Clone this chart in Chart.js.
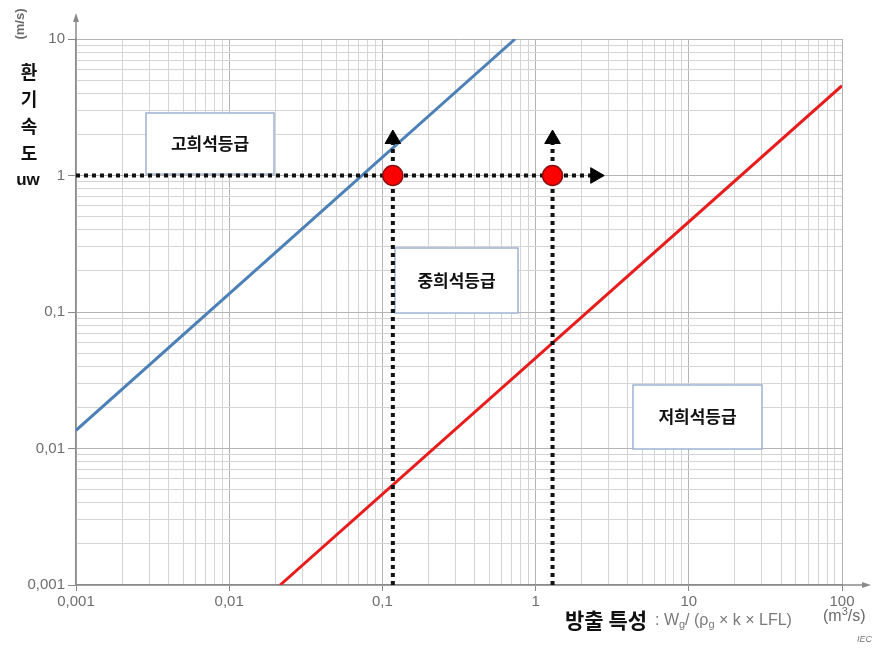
<!DOCTYPE html>
<html>
<head>
<meta charset="utf-8">
<script src="https://cdn.jsdelivr.net/npm/chart.js@4/dist/chart.umd.min.js"></script>
<style>
  html, body { margin: 0; padding: 0; background: #fff; }
  #wrap { width: 879px; height: 652px; }
</style>
</head>
<body>
<div id="wrap"><canvas id="chart" width="879" height="652"></canvas></div>
<script>
// ── DATA
const xTickValues = [0.001, 0.01, 0.1, 1, 10, 100];
const xTickLabels = ["0,001", "0,01", "0,1", "1", "10", "100"];
const yTickValues = [0.001, 0.01, 0.1, 1, 10];
const yTickLabels = ["0,001", "0,01", "0,1", "1", "10"];

// high-dilution boundary (blue) and low-dilution boundary (red)
const blueX = [0.001, 0.735];
const blueY = [0.0136, 10];
const redX = [0.0215, 100];
const redY = [0.001, 4.55];

// example points and guide lines
const pointX = [0.117, 1.29];
const pointY = [1, 1];
const guideEndX = 2.45;
const guideTopY = 1.85;

const zoneLabels = ["고희석등급", "중희석등급", "저희석등급"];

const pts = (xs, ys) => xs.map((x, i) => ({ x, y: ys[i] }));

function logTicks(majors) {
  const out = [];
  majors.forEach((v, i) => {
    out.push({ value: v, major: true, label: i });
    if (i < majors.length - 1) {
      for (let m = 2; m <= 9; m++) out.push({ value: v * m, major: false });
    }
  });
  return out;
}

const FONT_NUM = "'Liberation Sans', Arial, sans-serif";
const FONT_KR = "'Noto Sans CJK KR', 'Noto Sans', sans-serif";

// ── ZONE BOXES (under the lines)
const zones = {
  id: "zones",
  beforeDatasetsDraw(chart) {
    const { ctx } = chart;
    const boxes = [
      [146, 113, 128, 61],
      [395, 248, 123, 65],
      [633, 385, 129, 64],
    ];
    ctx.save();
    boxes.forEach((b, i) => {
      ctx.fillStyle = "#ffffff";
      ctx.fillRect(b[0], b[1], b[2], b[3]);
      ctx.strokeStyle = "#9fb3d1";
      ctx.lineWidth = 1.5;
      ctx.strokeRect(b[0], b[1], b[2], b[3]);
      ctx.fillStyle = "#111";
      ctx.font = "bold 17px " + FONT_KR;
      ctx.textAlign = "center";
      ctx.textBaseline = "middle";
      ctx.fillText(zoneLabels[i], b[0] + b[2] / 2, b[1] + b[3] / 2);
    });
    ctx.restore();
  }
};

// ── TITLES AND AXIS ARROWS
const decor = {
  id: "decor",
  afterDatasetsDraw(chart) {
    const { ctx, scales } = chart;
    const x = scales.x, y = scales.y;
    const left = x.left, right = x.right, top = y.top, bottom = y.bottom;
    ctx.save();

    // axis arrows
    ctx.strokeStyle = "#8a8a8a";
    ctx.fillStyle = "#8a8a8a";
    ctx.lineWidth = 1.5;
    ctx.beginPath();
    ctx.moveTo(left, top); ctx.lineTo(left, top - 22);
    ctx.moveTo(right, bottom); ctx.lineTo(right + 24, bottom);
    ctx.stroke();
    ctx.beginPath();
    ctx.moveTo(left, top - 26); ctx.lineTo(left - 3, top - 17); ctx.lineTo(left + 3, top - 17); ctx.closePath();
    ctx.fill();
    ctx.beginPath();
    ctx.moveTo(right + 29, bottom); ctx.lineTo(right + 20, bottom - 3); ctx.lineTo(right + 20, bottom + 3); ctx.closePath();
    ctx.fill();

    // y-axis title
    ctx.save();
    ctx.translate(20, 24);
    ctx.rotate(-Math.PI / 2);
    ctx.fillStyle = "#6a6a6a";
    ctx.font = "bold 13px " + FONT_NUM;
    ctx.textAlign = "center";
    ctx.textBaseline = "middle";
    ctx.fillText("(m/s)", 0, 0);
    ctx.restore();

    ctx.fillStyle = "#111";
    ctx.font = "bold 18px " + FONT_KR;
    ctx.textAlign = "center";
    ctx.textBaseline = "middle";
    ["환", "기", "속", "도"].forEach((c, i) => ctx.fillText(c, 29, 72 + i * 27));
    ctx.font = "bold 17px " + FONT_NUM;
    ctx.fillText("uw", 28, 180);

    // x-axis title
    ctx.textAlign = "left";
    ctx.textBaseline = "alphabetic";
    let cx = 565;
    const base = 628;
    ctx.font = "bold 21px " + FONT_KR;
    ctx.fillStyle = "#111";
    ctx.fillText("방출 특성", cx, base);
    cx = 655;
    let by = 625;
    ctx.fillStyle = "#7a7a7a";
    const seg = (t, size, dy) => {
      ctx.font = size + "px " + FONT_NUM;
      ctx.fillText(t, cx, by + (dy || 0));
      cx += ctx.measureText(t).width;
    };
    seg(": W", 16);
    seg("g", 11, 3);
    seg("/ (ρ", 16);
    seg("g", 11, 3);
    seg(" × k × LFL)", 16);
    cx = 823;
    by = 621;
    ctx.fillStyle = "#6a6a6a";
    seg("(m", 16);
    seg("3", 11, -6);
    seg("/s)", 16);

    ctx.font = "italic 9px " + FONT_NUM;
    ctx.fillStyle = "#777";
    ctx.fillText("IEC", 857, 642);

    ctx.restore();
  }
};

// ── CHART
const dotted = {
  borderColor: "#111",
  borderWidth: 4,
  borderDash: [4, 4],
  borderCapStyle: "butt",
  pointRadius: 0,
  showLine: true,
  fill: false,
  order: 2,
};

new Chart(document.getElementById("chart"), {
  type: "scatter",
  data: {
    datasets: [
      { data: pts(blueX, blueY), showLine: true, borderColor: "#4d80b6", borderWidth: 3, pointRadius: 0, order: 3 },
      { data: pts(redX, redY), showLine: true, borderColor: "#e81c1c", borderWidth: 3, pointRadius: 0, order: 3 },
      { ...dotted, data: [{ x: xTickValues[0], y: 1 }, { x: guideEndX, y: 1 }] },
      { ...dotted, data: [{ x: pointX[0], y: yTickValues[0] }, { x: pointX[0], y: guideTopY }] },
      { ...dotted, data: [{ x: pointX[1], y: yTickValues[0] }, { x: pointX[1], y: guideTopY }] },
      {
        data: [{ x: pointX[0], y: guideTopY }, { x: pointX[1], y: guideTopY }],
        pointStyle: "triangle", pointRadius: 9, backgroundColor: "#000", borderColor: "#000", borderWidth: 1, order: 1,
      },
      {
        data: [{ x: guideEndX, y: 1 }],
        pointStyle: "triangle", rotation: 90, pointRadius: 9, backgroundColor: "#000", borderColor: "#000", borderWidth: 1, order: 1,
      },
      {
        data: pts(pointX, pointY),
        pointRadius: 10, backgroundColor: "#ff0000", borderColor: "#8a1010", borderWidth: 1.5, order: 0,
      },
    ],
  },
  options: {
    responsive: false,
    animation: false,
    events: [],
    layout: { padding: { top: 39, right: 37, left: 0, bottom: 0 } },
    plugins: { legend: { display: false }, tooltip: { enabled: false } },
    scales: {
      x: {
        type: "logarithmic",
        min: xTickValues[0],
        max: xTickValues[xTickValues.length - 1],
        afterBuildTicks: (s) => { s.ticks = logTicks(xTickValues); },
        afterFit: (s) => { s.height = 67; },
        border: { color: "#8a8a8a", width: 1.5 },
        grid: {
          color: (c) => (c.tick && c.tick.major ? "#b4b4b4" : "#d4d4d4"),
          lineWidth: 1,
          tickLength: 6,
          tickColor: (c) => (c.tick && c.tick.major ? "#8a8a8a" : "rgba(0,0,0,0)"),
        },
        ticks: {
          autoSkip: false,
          maxRotation: 0,
          padding: 2,
          color: "#6e6e6e",
          font: { family: FONT_NUM, size: 15 },
          callback: (v, i, ticks) => (ticks[i].major ? xTickLabels[ticks[i].label] : ""),
        },
      },
      y: {
        type: "logarithmic",
        min: yTickValues[0],
        max: yTickValues[yTickValues.length - 1],
        afterBuildTicks: (s) => { s.ticks = logTicks(yTickValues); },
        afterFit: (s) => { s.width = 76; },
        border: { color: "#8a8a8a", width: 1.5 },
        grid: {
          color: (c) => (c.tick && c.tick.major ? "#b4b4b4" : "#d4d4d4"),
          lineWidth: 1,
          tickLength: 8,
          tickColor: (c) => (c.tick && c.tick.major ? "#8a8a8a" : "rgba(0,0,0,0)"),
        },
        ticks: {
          autoSkip: false,
          padding: 3,
          color: "#6e6e6e",
          font: { family: FONT_NUM, size: 15 },
          callback: (v, i, ticks) => (ticks[i].major ? yTickLabels[ticks[i].label] : ""),
        },
      },
    },
  },
  plugins: [zones, decor],
});
</script>
</body>
</html>
